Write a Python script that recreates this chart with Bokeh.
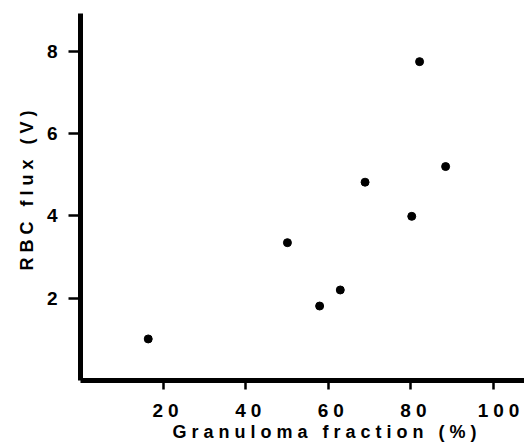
from bokeh.plotting import figure
from bokeh.models import FixedTicker, Range1d, Title, InlineStyleSheet
from bokeh.embed import file_html
from bokeh.resources import INLINE

# Data
granuloma_fraction = [16.4, 50.1, 57.9, 62.9, 68.9, 80.2, 82.1, 88.4]
rbc_flux = [1.01, 3.35, 1.81, 2.20, 4.82, 3.99, 7.75, 5.20]
x_ticks = [20, 40, 60, 80, 100]
y_ticks = [2, 4, 6, 8]
x_title = "Granuloma fraction (%)"
y_title = "RBC flux (V)"

FONT = "Liberation Sans"

# the printed labels are set with wide letter spacing (inherited into the canvas)
css = InlineStyleSheet(css=":host { letter-spacing: 5px; }")

p = figure(width=524, height=446, output_backend="svg", toolbar_location=None,
           x_range=Range1d(0, 107.5), y_range=Range1d(0, 8.92),
           min_border_left=80, min_border_right=0, min_border_top=13, min_border_bottom=66,
           stylesheets=[css])
p.outline_line_color = None
p.xgrid.grid_line_color = None
p.ygrid.grid_line_color = None
p.background_fill_color = "white"
p.border_fill_color = "white"

p.scatter(granuloma_fraction, rbc_flux, size=8, color="black", marker="circle")

p.xaxis.ticker = FixedTicker(ticks=x_ticks)
p.yaxis.ticker = FixedTicker(ticks=y_ticks)
p.xaxis.minor_tick_line_color = None
p.yaxis.minor_tick_line_color = None

for ax in (p.xaxis, p.yaxis):
    ax.axis_line_width = 5
    ax.axis_line_color = "black"
    ax.major_tick_line_width = 2.5
    ax.major_tick_line_color = "black"
    ax.major_tick_in = 0
    ax.major_label_text_font = FONT
    ax.major_label_text_font_style = "bold"
    ax.major_label_text_font_size = "19px"
    ax.major_label_text_color = "black"

p.xaxis.major_tick_out = 9
p.xaxis.major_label_standoff = 14
p.yaxis.major_tick_out = 12
p.yaxis.major_label_standoff = 11

yt = Title(text=y_title, align="left", offset=110, standoff=14,
           text_font=FONT, text_font_style="bold", text_font_size="18px",
           text_color="black")
p.add_layout(yt, "left")

xt = Title(text=x_title, align="left", offset=92, standoff=0,
           text_font=FONT, text_font_style="bold", text_font_size="18px",
           text_color="black")
p.add_layout(xt, "below")

open("out.html", "w").write(file_html(p, INLINE))
